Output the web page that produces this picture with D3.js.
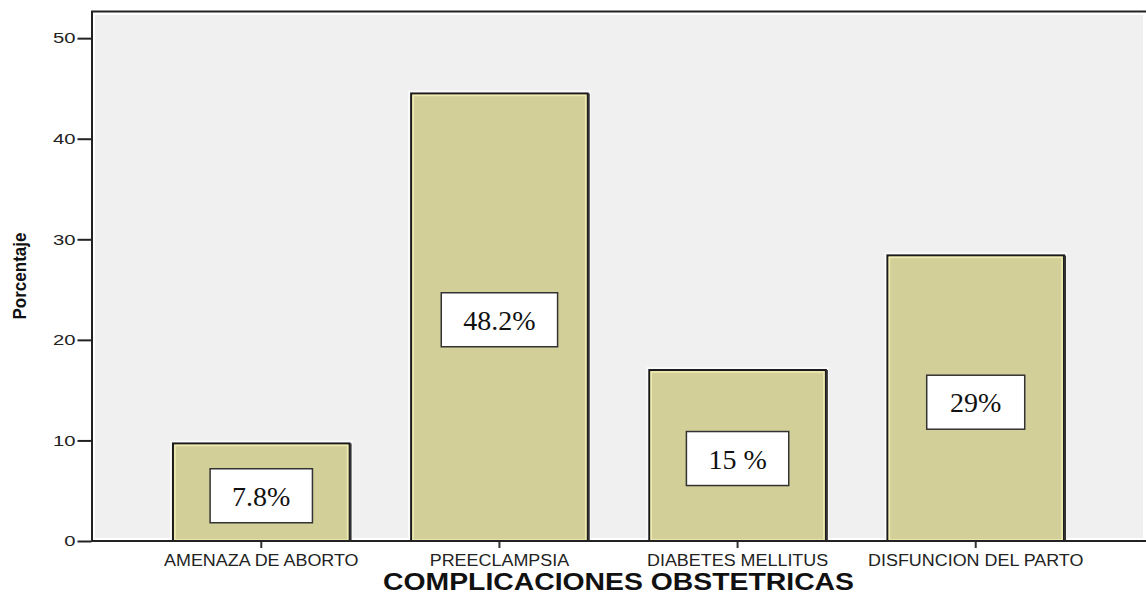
<!DOCTYPE html>
<html>
<head>
<meta charset="utf-8">
<script src="https://cdn.jsdelivr.net/npm/d3@7"></script>
<style>
    body { margin: 0; background: #fff; }
    svg { display: block; }
</style>
</head>
<body>
<svg id="graph" width="1146" height="594"></svg>
<script>
// datos del grafico
const categorias = ['AMENAZA DE ABORTO', 'PREECLAMPSIA', 'DIABETES MELLITUS', 'DISFUNCION DEL PARTO'];
const porcentajes = [9.8, 44.6, 17.1, 28.5];
const etiquetas = ['7.8%', '48.2%', '15 %', '29%'];
// altura (en %) donde va el centro de cada recuadro
const etiquetaEn = [4.5, 22.0, 8.2, 13.8];
const yTicks = [0, 10, 20, 30, 40, 50];

const width = 1146, height = 594;
const margin = { top: 11, right: 0, bottom: 53, left: 91 };

const svg = d3.select('#graph');

const xScale = d3.scaleBand()
    .domain(categorias)
    .range([margin.left, width - margin.right])
    .paddingInner(0.25)
    .paddingOuter(0.34);

const yScale = d3.scaleLinear()
    .domain([0, 52.7])
    .range([height - margin.bottom, margin.top]);

const y0 = yScale(0);

// estirar texto horizontalmente
const stretch = (sel, f) => {
    sel.each(function () {
        const w = this.getComputedTextLength();
        d3.select(this).attr('textLength', w * f).attr('lengthAdjust', 'spacingAndGlyphs');
    });
};

// fondo gris del area
svg.append('rect')
    .attr('x', margin.left + 4)
    .attr('y', margin.top + 4)
    .attr('width', width - margin.left - 7)
    .attr('height', y0 - margin.top - 7)
    .attr('fill', '#f0f0f0');

// barras
const g = svg.append('g');
categorias.forEach((c, i) => {
    const x = xScale(c), w = xScale.bandwidth();
    const yt = yScale(porcentajes[i]);
    const h = y0 - yt;
    g.append('rect')
        .attr('x', x - 2).attr('y', yt - 2)
        .attr('width', w + 4).attr('height', h + 2)
        .attr('fill', '#fafafa');
    g.append('rect')
        .attr('x', x + 1).attr('y', yt + 1)
        .attr('width', w - 2).attr('height', h - 1)
        .attr('fill', '#d3cf99')
        .attr('stroke', '#1a1a1a')
        .attr('stroke-width', 2);
    g.append('rect')
        .attr('x', x + 3).attr('y', yt + 3)
        .attr('width', w - 6).attr('height', h - 4)
        .attr('fill', 'none')
        .attr('stroke', '#f1ecb2')
        .attr('stroke-width', 1.5);
    // sombra derecha
    g.append('line')
        .attr('x1', x + w).attr('x2', x + w)
        .attr('y1', yt + 1).attr('y2', y0)
        .attr('stroke', '#333').attr('stroke-width', 2);
});

// marco y eje
svg.append('line')
    .attr('x1', margin.left).attr('x2', width)
    .attr('y1', margin.top + 0.5).attr('y2', margin.top + 0.5)
    .attr('stroke', '#222').attr('stroke-width', 2);

const yAxis = d3.axisLeft(yScale)
    .tickValues(yTicks)
    .tickSize(14)
    .tickSizeOuter(0)
    .tickPadding(2)
    .tickFormat(d3.format('d'));

const yG = svg.append('g')
    .attr('transform', `translate(${margin.left + 0.5}, 0)`)
    .call(yAxis);
yG.select('.domain').attr('stroke', '#222').attr('stroke-width', 2);
yG.selectAll('.tick line').attr('stroke', '#222').attr('stroke-width', 2);
yG.selectAll('.tick text')
    .attr('font-family', 'Liberation Sans, Arial, sans-serif')
    .attr('font-size', 15)
    .attr('fill', '#222')
    .call(stretch, 1.35);

const xAxis = d3.axisBottom(xScale)
    .tickSize(7)
    .tickSizeOuter(0)
    .tickPadding(6);

const xG = svg.append('g')
    .attr('transform', `translate(0, ${y0})`)
    .call(xAxis);
xG.select('.domain').remove();
xG.selectAll('.tick line').attr('stroke', '#333').attr('stroke-width', 2);
xG.selectAll('.tick text')
    .attr('font-family', 'Liberation Sans, Arial, sans-serif')
    .attr('font-size', 16)
    .attr('fill', '#222')
    .attr('dy', '0.72em')
    .call(stretch, 1.12);

svg.append('line')
    .attr('x1', margin.left).attr('x2', width)
    .attr('y1', y0).attr('y2', y0)
    .attr('stroke', '#222').attr('stroke-width', 2);

// recuadros de porcentaje
categorias.forEach((c, i) => {
    const cx = xScale(c) + xScale.bandwidth() / 2;
    const cy = yScale(etiquetaEn[i]);
    const lg = svg.append('g');
    const box = lg.append('rect');
    const t = lg.append('text')
        .attr('x', cx)
        .attr('y', cy + 10)
        .attr('text-anchor', 'middle')
        .attr('font-family', 'Liberation Serif, Times New Roman, serif')
        .attr('font-size', 28)
        .attr('fill', '#111')
        .text(etiquetas[i]);
    const tw = t.node().getComputedTextLength();
    const bw = Math.max(98, tw + 44), bh = 54;
    box.attr('x', cx - bw / 2)
        .attr('y', cy - bh / 2)
        .attr('width', bw)
        .attr('height', bh)
        .attr('fill', '#fff')
        .attr('stroke', '#333')
        .attr('stroke-width', 1.5);
});

// titulos
svg.append('text')
    .attr('x', (margin.left + width) / 2)
    .attr('y', 590)
    .attr('text-anchor', 'middle')
    .attr('font-family', 'Liberation Sans, Arial, sans-serif')
    .attr('font-weight', 'bold')
    .attr('font-size', 23)
    .attr('fill', '#111')
    .text('COMPLICACIONES OBSTETRICAS')
    .attr('textLength', 471)
    .attr('lengthAdjust', 'spacingAndGlyphs');

svg.append('text')
    .attr('transform', `translate(26, ${276}) rotate(-90)`)
    .attr('text-anchor', 'middle')
    .attr('font-family', 'Liberation Sans Narrow, Liberation Sans, Arial, sans-serif')
    .attr('font-weight', 'bold')
    .attr('font-size', 19)
    .attr('fill', '#111')
    .text('Porcentaje')
    .attr('textLength', 87)
    .attr('lengthAdjust', 'spacingAndGlyphs');
</script>
</body>
</html>
